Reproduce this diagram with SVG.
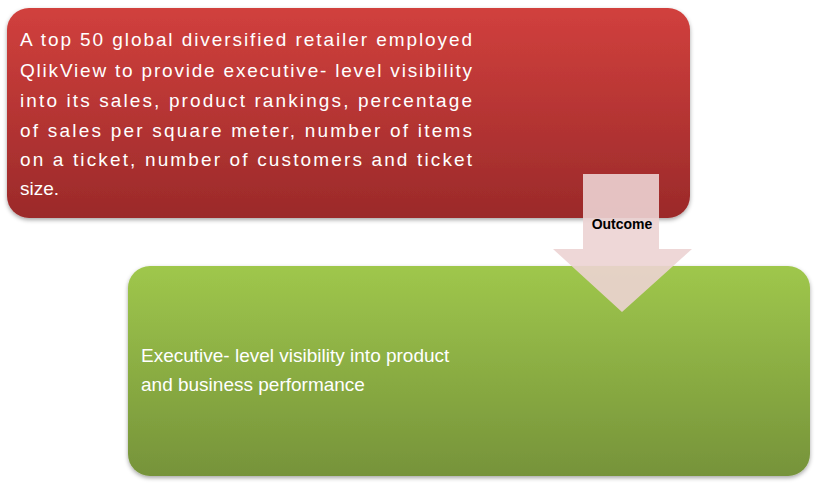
<svg xmlns="http://www.w3.org/2000/svg" width="825" height="492" viewBox="0 0 825 492">
<defs>
<linearGradient id="gr" x1="0" y1="0" x2="0" y2="1"><stop offset="0" stop-color="#d1403d"/><stop offset="1" stop-color="#9b2a2a"/></linearGradient>
<linearGradient id="gg" x1="0" y1="0" x2="0" y2="1"><stop offset="0" stop-color="#9fc74c"/><stop offset="1" stop-color="#76933a"/></linearGradient>
<filter id="sh" x="-5%" y="-5%" width="110%" height="115%"><feDropShadow dx="0" dy="2" stdDeviation="2" flood-opacity="0.35"/></filter>
<style>
.t{font-family:"Liberation Sans",Arial,sans-serif;font-size:19px;fill:#fff}
.o{font-family:"Liberation Sans",Arial,sans-serif;font-size:14px;font-weight:bold;fill:#000}
</style>
</defs>
<g id="node1">
<rect x="7" y="8" width="683" height="210" rx="22" fill="url(#gr)" filter="url(#sh)"/>
<text class="t" lengthAdjust="spacing"><tspan x="20" y="46" textLength="452">A top 50 global diversified retailer employed</tspan><tspan x="20" y="77" textLength="452">QlikView to provide executive- level visibility</tspan><tspan x="20" y="107" textLength="452">into  its sales, product rankings, percentage</tspan><tspan x="20" y="137" textLength="452">of sales per square meter, number of items</tspan><tspan x="20" y="166" textLength="452">on a ticket, number of customers and ticket</tspan><tspan x="20" y="195">size.</tspan></text>
</g>
<g id="node2">
<rect x="128" y="266" width="682" height="210" rx="22" fill="url(#gg)" filter="url(#sh)"/>
<text class="t" x="141" y="362">Executive- level visibility into product</text>
<text class="t" x="141" y="391">and business performance</text>
</g>
<g id="connectors">
<polygon points="583,174 659,174 659,249 692,249 622,312 553,249 583,249" fill="#ecd3d3" fill-opacity="0.9"/>
<text class="o" x="622" y="229" text-anchor="middle">Outcome</text>
</g>
</svg>
